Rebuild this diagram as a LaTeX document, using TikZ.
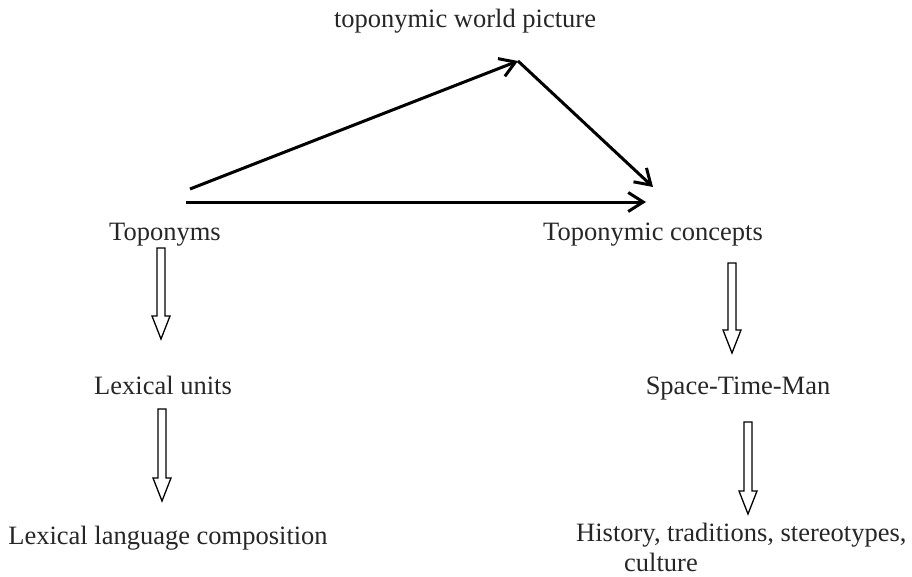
\documentclass[tikz,border=0pt]{standalone}
\usepackage{fontspec}
\setmainfont{Liberation Serif}
\usetikzlibrary{arrows.meta,calc}
\begin{document}
\begin{tikzpicture}[x=1pt,y=-1pt,
  lbl/.style={anchor=base,inner sep=0pt,text=black!85,font=\fontsize{26.5}{30}\selectfont},
  thinarr/.style={line width=3pt,-{Straight Barb[length=15pt,width=19pt,line width=3pt]}},
  blockarr/.style={draw=black,line width=1.3pt,fill=white,line join=miter}
]
\useasboundingbox (0,0) rectangle (912,576);
% text nodes
\node[lbl] (wp) at (465,27) {toponymic world picture};
\node[lbl] (top) at (165,240) {Toponyms};
\node[lbl] (con) at (653,240) {Toponymic concepts};
\node[lbl] (lex) at (163,394) {Lexical units};
\node[lbl] (stm) at (738,394) {Space-Time-Man};
\node[lbl] (llc) at (168,544) {Lexical language composition};
\node[lbl,align=left,anchor=base west] (his) at (576,571) {History, traditions, stereotypes,\\\hspace*{48pt}culture};
% connector endpoints
\coordinate (t1) at (190,189);
\coordinate (apex) at (518,61);
\coordinate (c1) at (653,187);
\coordinate (t2) at (186,202);
\coordinate (c2) at (646,202);
\draw[thinarr] (t1) -- (apex);
\draw[thinarr] (apex) -- (c1);
\draw[thinarr] (t2) -- (c2);
% block arrows
\newcommand{\blkarrow}[3]{%
  \draw[blockarr] (#1-4,#2) -- (#1+4,#2) -- (#1+4,#3-23) -- (#1+9,#3-23) -- (#1,#3) -- (#1-9,#3-23) -- (#1-4,#3-23) -- cycle;}
\blkarrow{161}{248}{339}
\blkarrow{162}{409}{501}
\blkarrow{732}{263}{353}
\blkarrow{748}{422}{514}
\end{tikzpicture}
\end{document}
